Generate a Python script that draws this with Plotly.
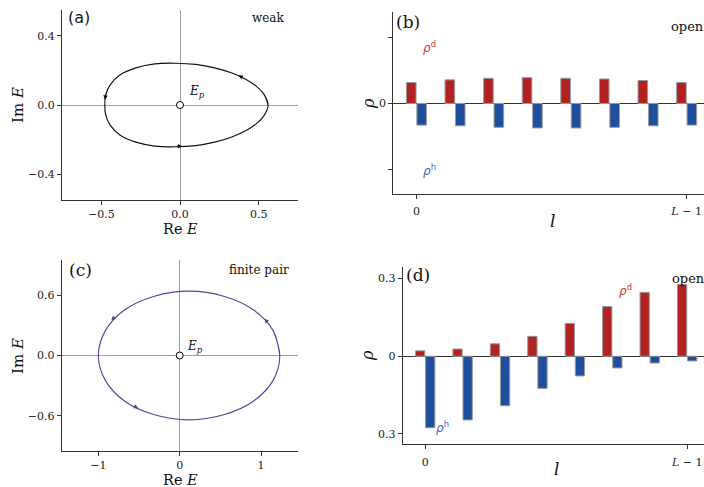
import plotly.graph_objects as go

# ---------------- data ----------------
# (a) weak: closed loop in complex energy plane
a_re = [0.56, 0.535, 0.49, 0.42, 0.33, 0.22, 0.10, -0.03, -0.16, -0.28, -0.38, -0.445, -0.473, -0.478,
        -0.473, -0.445, -0.38, -0.28, -0.16, -0.03, 0.10, 0.22, 0.33, 0.42, 0.49, 0.535, 0.56, 0.535]
a_im = [0.0, 0.06, 0.105, 0.148, 0.185, 0.215, 0.235, 0.242, 0.238, 0.215, 0.175, 0.115, 0.055, 0.0,
        -0.055, -0.115, -0.175, -0.215, -0.238, -0.242, -0.235, -0.215, -0.185, -0.148, -0.105, -0.06, 0.0, 0.06]

# (c) finite pair: closed loop
c_re = [1.23, 1.15, 0.905, 0.54, 0.115, -0.31, -0.675, -0.915, -1.0,
        -0.915, -0.675, -0.31, 0.115, 0.54, 0.905, 1.15, 1.23, 1.15]
c_im = [0.0, 0.245, 0.455, 0.59, 0.64, 0.59, 0.455, 0.245, 0.0,
        -0.245, -0.455, -0.59, -0.64, -0.59, -0.455, -0.245, 0.0, 0.245]

# bar panels
sites = [0, 1, 2, 3, 4, 5, 6, 7]
b_rho_d = [0.095, 0.107, 0.114, 0.117, 0.114, 0.111, 0.104, 0.095]
b_rho_h = [0.098, 0.101, 0.108, 0.111, 0.111, 0.108, 0.101, 0.098]
d_rho_d = [0.021, 0.028, 0.048, 0.077, 0.127, 0.192, 0.247, 0.278]
d_rho_h = [0.276, 0.246, 0.191, 0.124, 0.076, 0.045, 0.026, 0.018]

SERIF = "DejaVu Serif"
SANS = "DejaVu Sans"
RED = "#b22222"
BLUE = "#1f4e9e"
PURPLE = "#5b3f99"
AX = "#333333"
W, H = 704, 487


def px(x):
    return x / W


def py(y):
    return 1 - y / H


fig = go.Figure()

# ---- (a) ----
fig.add_trace(go.Scatter(x=a_re, y=a_im, mode="lines", line=dict(color="#111111", width=1.1, shape="spline", smoothing=1),
                         xaxis="x", yaxis="y", showlegend=False, hoverinfo="skip"))
fig.add_trace(go.Scatter(x=[0], y=[0], mode="markers", marker=dict(size=7, color="white", line=dict(color="black", width=1)),
                         xaxis="x", yaxis="y", showlegend=False))
# ---- (c) ----
fig.add_trace(go.Scatter(x=c_re, y=c_im, mode="lines", line=dict(color=PURPLE, width=1.1, shape="spline", smoothing=1),
                         xaxis="x3", yaxis="y3", showlegend=False, hoverinfo="skip"))
fig.add_trace(go.Scatter(x=[0], y=[0], mode="markers", marker=dict(size=7, color="white", line=dict(color="black", width=1)),
                         xaxis="x3", yaxis="y3", showlegend=False))
# ---- (b) ----
bar_line = dict(color="#9a9a9a", width=1)
fig.add_trace(go.Bar(x=sites, y=b_rho_d, marker=dict(color=RED, line=bar_line), xaxis="x2", yaxis="y2",
                     offsetgroup="d", showlegend=False))
fig.add_trace(go.Bar(x=sites, y=[-v for v in b_rho_h], marker=dict(color=BLUE, line=bar_line), xaxis="x2", yaxis="y2",
                     offsetgroup="h", showlegend=False))
# ---- (d) ----
fig.add_trace(go.Bar(x=sites, y=d_rho_d, marker=dict(color=RED, line=bar_line), xaxis="x4", yaxis="y4",
                     offsetgroup="d", showlegend=False))
fig.add_trace(go.Bar(x=sites, y=[-v for v in d_rho_h], marker=dict(color=BLUE, line=bar_line), xaxis="x4", yaxis="y4",
                     offsetgroup="h", showlegend=False))

tickfont = dict(family=SERIF, size=11, color="#222222")
common = dict(showline=True, linecolor=AX, linewidth=1, ticks="outside", ticklen=4, tickwidth=1, tickcolor=AX,
              showgrid=False, tickfont=tickfont, mirror=False, fixedrange=True)

fig.update_layout(
    width=W, height=H, margin=dict(l=0, r=0, t=0, b=0),
    paper_bgcolor="white", plot_bgcolor="white",
    barmode="group", bargap=0.46, bargroupgap=0.08,
    xaxis=dict(domain=[px(62), px(298)], range=[-0.75, 0.75], tickvals=[-0.5, 0, 0.5],
               ticktext=["\u22120.5", "0.0", "0.5"], zeroline=True, zerolinecolor="#a0a0a0", zerolinewidth=1,
               anchor="y", **common),
    yaxis=dict(domain=[py(200), py(10)], range=[-0.55, 0.55], tickvals=[-0.4, 0, 0.4],
               ticktext=["\u22120.4", "0.0", "0.4"], zeroline=True, zerolinecolor="#a0a0a0", zerolinewidth=1,
               anchor="x", **common),
    xaxis3=dict(domain=[px(61.7), px(297.7)], range=[-1.45, 1.45], tickvals=[-1, 0, 1],
                ticktext=["\u22121", "0", "1"], zeroline=True, zerolinecolor="#a0a0a0", zerolinewidth=1,
                anchor="y3", **common),
    yaxis3=dict(domain=[py(451), py(260)], range=[-0.95, 0.95], tickvals=[-0.6, 0, 0.6],
                ticktext=["\u22120.6", "0.0", "0.6"], zeroline=True, zerolinecolor="#a0a0a0", zerolinewidth=1,
                anchor="x3", **common),
    xaxis2=dict(domain=[px(393.3), 1.0], range=[-0.6, 7.45], tickvals=[0, 7],
                ticktext=["0", "<i>L</i> \u2212 1"], zeroline=False, anchor="y2", ticklabelstandoff=3, **common),
    yaxis2=dict(domain=[py(194), py(12.3)], range=[-0.41, 0.413], tickvals=[-0.3, 0, 0.3],
                ticktext=["", "0", ""], zeroline=True, zerolinecolor=AX, zerolinewidth=1.3, anchor="x2", **common),
    xaxis4=dict(domain=[px(402.7), 1.0], range=[-0.6, 7.45], tickvals=[0, 7],
                ticktext=["0", "<i>L</i> \u2212 1"], zeroline=False, anchor="y4", ticklabelstandoff=3, **common),
    yaxis4=dict(domain=[py(444.3), py(266.7)], range=[-0.34, 0.346], tickvals=[-0.3, 0, 0.3],
                ticktext=["0.3", "0", "0.3"], zeroline=True, zerolinecolor=AX, zerolinewidth=1.3, anchor="x4", **common),
)

ann = []


def label(text, x, y, size=15, xanchor="center", yanchor="middle", angle=0, color="#111111", family=SERIF):
    ann.append(dict(text=text, x=x, y=y, xref="paper", yref="paper", showarrow=False, xanchor=xanchor,
                    yanchor=yanchor, textangle=angle, font=dict(family=family, size=size, color=color)))


# axis titles
label("Im <i>E</i>", px(18), py(105), size=15, angle=-90)
label("Re <i>E</i>", px(180), py(229), size=14.5)
label("Im <i>E</i>", px(18), py(356), size=15, angle=-90)
label("Re <i>E</i>", px(180), py(480), size=14.5)
label("<i>\u03c1</i>", px(368), py(104), size=16, angle=-90)
label("<i>l</i>", px(552), py(221), size=17)
label("<i>\u03c1</i>", px(367), py(356), size=16, angle=-90)
label("<i>l</i>", px(556), py(469), size=17)
# panel labels
label("(a)", px(66), py(17), size=16, xanchor="left", family=SANS)
label("weak", px(287), py(18), size=12, xanchor="right")
label("(b)", px(394), py(22), size=17, xanchor="left")
label("open", px(669), py(27), size=13, xanchor="left")
label("(c)", px(67), py(270), size=17, xanchor="left")
label("finite pair", px(291), py(270), size=12, xanchor="right")
label("(d)", px(404), py(275), size=17, xanchor="left")
label("open", px(670), py(278), size=13, xanchor="left")


def dlabel(text, x, y, xr, yr, size=12, color="#111111", family=SERIF, xanchor="left"):
    ann.append(dict(text=text, x=x, y=y, xref=xr, yref=yr, showarrow=False, xanchor=xanchor, yanchor="middle",
                    font=dict(family=family, size=size, color=color)))


dlabel("<i>E</i><sub><i>p</i></sub>", 0.045, 0.075, "x", "y", size=12)
dlabel("<i>E</i><sub><i>p</i></sub>", 0.06, 0.085, "x3", "y3", size=12)
dlabel("<i>\u03c1</i><sup>d</sup>", 0.345, 0.255, "x2", "y2", size=12, color="#cc3333", family=SANS, xanchor="center")
dlabel("<i>\u03c1</i><sup>h</sup>", 0.345, -0.30, "x2", "y2", size=12, color="#3a66c4", family=SANS, xanchor="center")
dlabel("<i>\u03c1</i><sup>d</sup>", 5.34, 0.256, "x4", "y4", size=12, color="#cc3333", family=SANS, xanchor="center")
dlabel("<i>\u03c1</i><sup>h</sup>", 0.45, -0.275, "x4", "y4", size=12, color="#3a66c4", family=SANS, xanchor="center")


def arrow(hx, hy, tx, ty, xr, yr, color):
    ann.append(dict(x=hx, y=hy, ax=tx, ay=ty, xref=xr, yref=yr, axref=xr, ayref=yr, text="", showarrow=True,
                    arrowhead=2, arrowsize=0.9, arrowwidth=1, arrowcolor=color))


arrow(0.37, 0.171, 0.40, 0.159, "x", "y", "#111111")
arrow(-0.477, 0.03, -0.471, 0.07, "x", "y", "#111111")
arrow(0.015, -0.2385, -0.03, -0.238, "x", "y", "#111111")
arrow(1.04, 0.366, 1.07, 0.34, "x3", "y3", PURPLE)
arrow(-0.84, 0.35, -0.81, 0.375, "x3", "y3", PURPLE)
arrow(-0.51, -0.524, -0.56, -0.504, "x3", "y3", PURPLE)

fig.update_layout(annotations=ann)
fig.write_html("out.html")
